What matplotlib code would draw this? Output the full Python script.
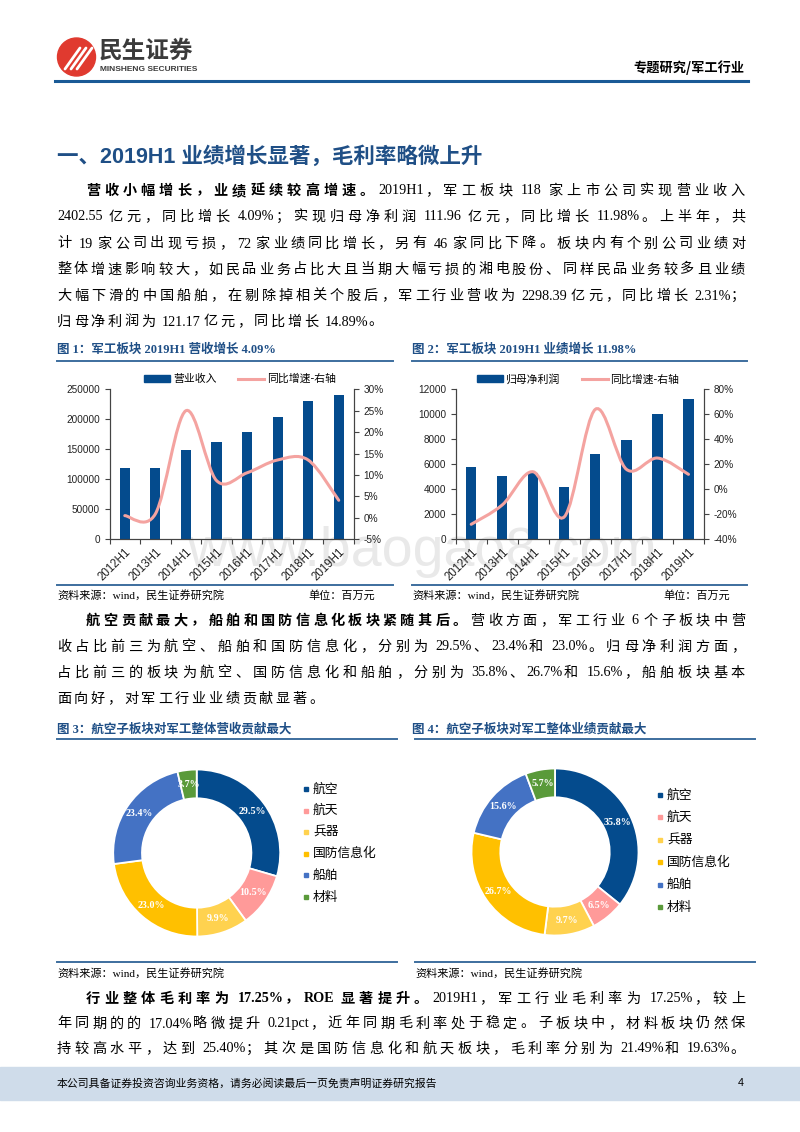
import matplotlib
matplotlib.use('Agg')
import matplotlib.pyplot as plt
from matplotlib.path import Path
from matplotlib.patches import PathPatch, Rectangle, Ellipse
from matplotlib.lines import Line2D
import numpy as np

# ---- data ----
periods = ['2012H1', '2013H1', '2014H1', '2015H1', '2016H1', '2017H1', '2018H1', '2019H1']
revenue = [118000, 119000, 149000, 162000, 179000, 203000, 230000, 240000]
revenue_yoy = [0.5, 0.9, 25.0, 8.7, 10.5, 13.5, 13.5, 4.09]
profit = [5780, 5060, 5330, 4160, 6830, 7970, 10000, 11200]
profit_yoy = [-28.0, -12.5, 14.0, -22.0, 64.0, 16.0, 25.0, 11.98]

sectors = ['航空', '航天', '兵器', '国防信息化', '船舶', '材料']
rev_share = [29.5, 10.5, 9.9, 23.0, 23.4, 3.7]
profit_share = [35.8, 6.5, 9.7, 26.7, 15.6, 5.7]

BAR_BLUE = '#044b8d'
LINE_PINK = '#f4a3a0'
TITLE_BLUE = '#1f4f86'
RULE_BLUE = '#3d6e9e'
sector_colors = ['#044b8d', '#ff9a99', '#ffd24f', '#ffc000', '#4472c4', '#5a9a3a']

W, H = 800, 1132
fig = plt.figure(figsize=(8, 11.32), dpi=100)
renderer = fig.canvas.get_renderer()

CJK = 'Noto Sans CJK SC'
BODY = ['Liberation Serif', CJK]
SANS = ['Liberation Sans', CJK]

BODY_SIZE = 10.2      # pt
CJK_PITCH = 16.8      # px, document character grid
RIGHT_EDGE = 745


def fx(x):
    return x / W


def fy(y):
    return 1 - y / H


def hline(x0, x1, y, color, lw):
    fig.add_artist(Line2D([fx(x0), fx(x1)], [fy(y), fy(y)], color=color, lw=lw,
                          transform=fig.transFigure))


def tokenize(segments):
    toks = []
    for text, bold in segments:
        buf = ''
        for c in text:
            if c == ' ' or ord(c) >= 128:
                if buf:
                    toks.append((buf, bold))
                    buf = ''
                toks.append((c, bold))
            else:
                buf += c
        if buf:
            toks.append((buf, bold))
    return toks


def text_line(x0, y, segments, justify=True):
    # body text on a character grid, optionally justified to the right margin
    items = []
    space_w = BODY_SIZE / 72 * 100 * 0.25
    for tok, bold in tokenize(segments):
        if tok == ' ':
            items.append((None, space_w, space_w))
            continue
        t = fig.text(0, fy(y), tok, family=BODY, weight='bold' if bold else 'normal',
                     fontsize=BODY_SIZE, va='center', ha='left')
        w = t.get_window_extent(renderer).width
        adv = CJK_PITCH if ord(tok[0]) >= 128 else w
        items.append((t, w, adv))
    extra = 0
    if justify:
        total = sum(a for _, _, a in items[:-1]) + items[-1][1]
        extra = (RIGHT_EDGE - x0 - total) / (len(items) - 1)
    x = x0
    for t, w, adv in items:
        if t is not None:
            t.set_x(fx(x))
        x += adv + extra


def smooth_path(xs, ys):
    pts = np.column_stack([xs, ys]).astype(float)
    n = len(pts)
    verts = [pts[0]]
    codes = [Path.MOVETO]
    for i in range(n - 1):
        p0 = pts[i - 1] if i > 0 else pts[i]
        p1, p2 = pts[i], pts[i + 1]
        p3 = pts[i + 2] if i + 2 < n else pts[i + 1]
        verts += [p1 + (p2 - p0) / 6, p2 - (p3 - p1) / 6, p2]
        codes += [Path.CURVE4] * 3
    return Path(verts, codes)


# ---- header ----
fig.add_artist(Ellipse((fx(76.5), fy(57)), 38 / W, 38 / H, transform=fig.transFigure,
                       color='#e03a2f', zorder=2))
for k in range(3):
    fig.add_artist(Line2D([fx(65 + k * 6), fx(80 + k * 6)], [fy(69), fy(48)],
                          color='white', lw=2.0, transform=fig.transFigure, zorder=3,
                          solid_capstyle='round'))
fig.text(fx(99), fy(51), '民生证券', family=CJK, weight='bold', fontsize=17,
         color='#3b3b3b', va='center')
fig.text(fx(100), fy(69.5), 'MINSHENG SECURITIES', family='Liberation Sans',
         weight='bold', fontsize=6.0, color='#3b3b3b', va='center')
fig.text(fx(745), fy(68), '专题研究/军工行业', family=CJK, weight='bold', fontsize=9.5,
         ha='right', va='center')
hline(55, 748, 81, '#1a5a96', 2.2)

# ---- section heading and paragraph 1 ----
fig.text(fx(57), fy(157), '一、2019H1 业绩增长显著，毛利率略微上升', family=SANS,
         weight='bold', fontsize=15.5, color=TITLE_BLUE, va='center')
text_line(86, 191, [('营收小幅增长，业绩延续较高增速。', True),
                    ('2019H1，军工板块 118 家上市公司实现营业收入', False)])
text_line(57, 217, [('2402.55 亿元，同比增长 4.09%；实现归母净利润 111.96 亿元，同比增长 11.98%。上半年，共', False)])
text_line(57, 244, [('计 19 家公司出现亏损，72 家业绩同比增长，另有 46 家同比下降。板块内有个别公司业绩对', False)])
text_line(57, 270, [('整体增速影响较大，如民品业务占比大且当期大幅亏损的湘电股份、同样民品业务较多且业绩', False)])
text_line(57, 296, [('大幅下滑的中国船舶，在剔除掉相关个股后，军工行业营收为 2298.39 亿元，同比增长 2.31%；', False)])
text_line(57, 322, [('归母净利润为 121.17 亿元，同比增长 14.89%。', False)], justify=False)

# watermark
fig.text(fx(187), fy(566), 'www.baogao8.com', family='Liberation Sans', fontsize=40,
         color='#e9e9e9', va='baseline', zorder=-5)


# ---- bar + line charts ----
def combo_chart(rect, bars, growth, ylim, ystep, y2lim, y2step, bar_label, legend_cx):
    ax = fig.add_axes(rect)
    ax.patch.set_alpha(0)
    x = np.arange(len(periods))
    ax.bar(x, bars, width=0.33, color=BAR_BLUE, zorder=2, label=bar_label)
    ax.set_xlim(-0.5, len(periods) - 0.5)
    ax.set_ylim(*ylim)
    ax.set_yticks(np.arange(ylim[0], ylim[1] + 1, ystep))
    ax.set_xticks(x)
    ax.set_xticklabels(periods, rotation=45, ha='right', rotation_mode='anchor',
                       family='Liberation Sans', fontsize=8.3, color='#222222')
    ax.set_xticks(np.arange(-0.5, len(periods), 1), minor=True)
    ax.tick_params(axis='x', which='major', length=0, pad=5)
    ax.tick_params(axis='x', which='minor', length=3.5, width=0.8, color='#444444')
    ax.tick_params(axis='y', length=3.5, width=0.8, color='#444444', labelsize=7.2,
                   labelcolor='#222222')
    for lab in ax.get_yticklabels():
        lab.set_family('Liberation Sans')
    ax.spines['top'].set_visible(False)
    for s in ['left', 'bottom', 'right']:
        ax.spines[s].set_color('#444444')
        ax.spines[s].set_linewidth(0.8)

    ax2 = ax.twinx()
    ax2.set_ylim(*y2lim)
    y2t = np.arange(y2lim[0], y2lim[1] + 1, y2step)
    ax2.set_yticks(y2t)
    ax2.set_yticklabels(['%d%%' % v for v in y2t], family='Liberation Sans')
    ax2.tick_params(axis='y', length=3.5, width=0.8, color='#444444', labelsize=7.2,
                    labelcolor='#222222')
    ax2.spines['top'].set_visible(False)
    for s in ['left', 'bottom', 'right']:
        ax2.spines[s].set_color('#444444')
        ax2.spines[s].set_linewidth(0.8)
    ax2.add_patch(PathPatch(smooth_path(x, growth), fill=False, edgecolor=LINE_PINK,
                            lw=2.2, capstyle='round', zorder=3))

    handles = [Rectangle((0, 0), 1, 1, color=BAR_BLUE),
               Line2D([], [], color=LINE_PINK, lw=2.2)]
    fig.legend(handles, [bar_label, '同比增速-右轴'], loc='center',
               bbox_to_anchor=(fx(legend_cx), fy(379)), ncol=2, frameon=False,
               prop={'family': CJK, 'size': 7.8}, handlelength=2.4, handleheight=0.6,
               handletextpad=0.25, columnspacing=2.0)
    return ax


TITLE_SIZE = 9.0
fig.text(fx(57), fy(350), '图 1：军工板块 2019H1 营收增长 4.09%', family=BODY,
         weight='bold', fontsize=TITLE_SIZE, color=TITLE_BLUE, va='center')
hline(57, 393, 361, RULE_BLUE, 1.4)
fig.text(fx(412), fy(350), '图 2：军工板块 2019H1 业绩增长 11.98%', family=BODY,
         weight='bold', fontsize=TITLE_SIZE, color=TITLE_BLUE, va='center')
hline(412, 747, 361, RULE_BLUE, 1.4)

combo_chart([fx(109.5), fy(539.2), (354 - 109.5) / W, (539.2 - 389.3) / H],
            revenue, revenue_yoy, (0, 250000), 50000, (-5, 30), 5, '营业收入', 240)
combo_chart([fx(455.7), fy(539.3), (704 - 455.7) / W, (539.3 - 389.3) / H],
            profit, profit_yoy, (0, 12000), 2000, (-40, 80), 20, '归母净利润', 578)

hline(57, 393, 585, RULE_BLUE, 1.4)
hline(412, 747, 585, RULE_BLUE, 1.4)
fig.text(fx(57), fy(595), '资料来源：wind，民生证券研究院', family=BODY, fontsize=8, va='center')
fig.text(fx(375), fy(595), '单位：百万元', family=BODY, fontsize=8, va='center', ha='right')
fig.text(fx(412), fy(595), '资料来源：wind，民生证券研究院', family=BODY, fontsize=8, va='center')
fig.text(fx(730), fy(595), '单位：百万元', family=BODY, fontsize=8, va='center', ha='right')

# ---- paragraph 2 ----
text_line(86, 621, [('航空贡献最大，船舶和国防信息化板块紧随其后。', True),
                    ('营收方面，军工行业 6 个子板块中营', False)])
text_line(57, 647, [('收占比前三为航空、船舶和国防信息化，分别为 29.5%、23.4%和 23.0%。归母净利润方面，', False)])
text_line(57, 673, [('占比前三的板块为航空、国防信息化和船舶，分别为 35.8%、26.7%和 15.6%，船舶板块基本', False)])
text_line(57, 699, [('面向好，对军工行业业绩贡献显著。', False)], justify=False)


# ---- donut charts ----
def donut(cx, cy, r, values, leg_x, leg_y0, leg_step):
    ax = fig.add_axes([fx(cx - r), fy(cy + r), 2 * r / W, 2 * r / H])
    ax.patch.set_alpha(0)
    ax.pie(values, colors=sector_colors, startangle=90, counterclock=False, radius=1,
           autopct='%.1f%%', pctdistance=0.83,
           wedgeprops={'width': 0.345, 'edgecolor': 'white', 'linewidth': 1.3},
           textprops={'color': 'white', 'fontsize': 7.2, 'family': 'Liberation Serif',
                      'weight': 'bold'})
    ax.set_xlim(-1, 1)
    ax.set_ylim(-1, 1)
    ax.axis('off')
    for i, name in enumerate(sectors):
        yy = leg_y0 + i * leg_step
        fig.add_artist(Line2D([fx(leg_x)], [fy(yy)], marker='s', ls='', markersize=3.2,
                              color=sector_colors[i], transform=fig.transFigure))
        fig.text(fx(leg_x + 7), fy(yy), name, family=CJK, fontsize=9.2, va='center')


fig.text(fx(57), fy(729), '图 3：航空子板块对军工整体营收贡献最大', family=BODY,
         weight='bold', fontsize=TITLE_SIZE, color=TITLE_BLUE, va='center')
hline(57, 397, 739, RULE_BLUE, 1.4)
fig.text(fx(412), fy(729), '图 4：航空子板块对军工整体业绩贡献最大', family=BODY,
         weight='bold', fontsize=TITLE_SIZE, color=TITLE_BLUE, va='center')
hline(415, 755, 739, RULE_BLUE, 1.4)

donut(196.7, 853, 83.5, rev_share, 306, 789, 21.6)
donut(555, 852, 83.5, profit_share, 660, 795, 22.4)

hline(57, 397, 962, RULE_BLUE, 1.4)
hline(415, 755, 962, RULE_BLUE, 1.4)
fig.text(fx(57), fy(973), '资料来源：wind，民生证券研究院', family=BODY, fontsize=8, va='center')
fig.text(fx(415), fy(973), '资料来源：wind，民生证券研究院', family=BODY, fontsize=8, va='center')

# ---- paragraph 3 ----
text_line(86, 999, [('行业整体毛利率为 17.25%，ROE 显著提升。', True),
                    ('2019H1，军工行业毛利率为 17.25%，较上', False)])
text_line(57, 1024, [('年同期的的 17.04%略微提升 0.21pct，近年同期毛利率处于稳定。子板块中，材料板块仍然保', False)])
text_line(57, 1049, [('持较高水平，达到 25.40%；其次是国防信息化和航天板块，毛利率分别为 21.49%和 19.63%。', False)])

# ---- footer ----
fig.add_artist(Rectangle((0, fy(1100)), 1, 33 / H, transform=fig.transFigure,
                         color='#cfdcea', zorder=0))
fig.text(fx(57), fy(1083.5), '本公司具备证券投资咨询业务资格，请务必阅读最后一页免责声明证券研究报告',
         family=CJK, fontsize=7.8, va='center')
fig.text(fx(738), fy(1083.5), '4', family='Liberation Sans', fontsize=7.8, va='center')

fig.savefig('out.png', dpi=100)
